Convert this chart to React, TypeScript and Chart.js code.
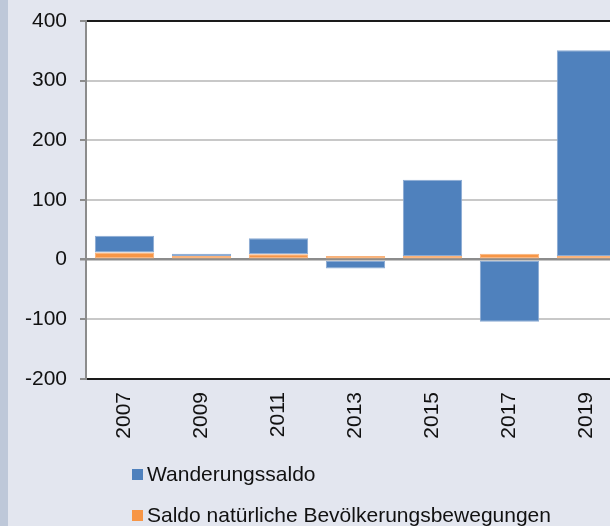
import React, { useEffect, useRef } from "react";
import { Chart, registerables } from "chart.js";

Chart.register(...registerables);

const years = ["2007", "2009", "2011", "2013", "2015", "2017", "2019"];
const wanderungssaldo = [28, 4, 27, -15, 128, -104, 345];
const natuerlicherSaldo = [12, 6, 9, 6, 6, 10, 6];
const seriesNames = ["Wanderungssaldo", "Saldo natürliche Bevölkerungsbewegungen"];
const yMin = -200;
const yMax = 400;
const yStep = 100;

const BLUE = "#4f81bd";
const ORANGE = "#f79646";
const FONT = "'Liberation Sans', Arial, sans-serif";

const whiteArea = {
  id: "whiteArea",
  beforeDraw(chart: any) {
    const { ctx, chartArea } = chart;
    ctx.save();
    ctx.fillStyle = "#ffffff";
    ctx.fillRect(chartArea.left, chartArea.top, chartArea.right - chartArea.left, chartArea.bottom - chartArea.top);
    ctx.restore();
  },
};

export default function App() {
  const ref = useRef<HTMLCanvasElement | null>(null);

  useEffect(() => {
    if (!ref.current) return;
    const chart = new Chart(ref.current, {
      type: "bar",
      data: {
        labels: years,
        datasets: [
          {
            label: seriesNames[1],
            data: natuerlicherSaldo,
            backgroundColor: ORANGE,
            borderColor: "#f9b27a",
            borderWidth: 1,
            borderSkipped: false,
          },
          {
            label: seriesNames[0],
            data: wanderungssaldo,
            backgroundColor: BLUE,
            borderColor: "#8aaad3",
            borderWidth: 1,
            borderSkipped: false,
          },
        ],
      },
      plugins: [whiteArea],
      options: {
        animation: false,
        responsive: false,
        maintainAspectRatio: false,
        devicePixelRatio: 1,
        layout: { padding: { left: 0, right: 0, top: 21, bottom: 0 } },
        plugins: { legend: { display: false }, tooltip: { enabled: false } },
        datasets: { bar: { categoryPercentage: 0.77, barPercentage: 1 } },
        scales: {
          x: {
            stacked: true,
            grid: { display: false, drawTicks: false },
            border: { display: true, color: "#1a1a1a", width: 2 },
            ticks: {
              color: "#111",
              font: { family: FONT, size: 21 },
              minRotation: 90,
              maxRotation: 90,
              padding: 13,
            },
            afterFit: (s: any) => {
              s.height = 147;
            },
          },
          y: {
            stacked: true,
            min: yMin,
            max: yMax,
            grid: {
              color: (ctx: any) => {
                const v = ctx.tick?.value;
                if (v === yMax || v === yMin) return "#1a1a1a";
                if (v === 0) return "#8c8c8c";
                return "#c8c8c8";
              },
              lineWidth: (ctx: any) => (ctx.tick?.value === 0 ? 2.5 : 2),
              tickColor: "#8c8c8c",
              tickLength: 6,
            },
            border: { display: true, color: "#8c8c8c", width: 2 },
            ticks: {
              stepSize: yStep,
              color: "#111",
              font: { family: FONT, size: 21 },
              padding: 13,
            },
            afterFit: (s: any) => {
              s.width = 86;
              s.paddingTop = 0;
              s.paddingBottom = 0;
            },
          },
        },
      },
    });
    return () => chart.destroy();
  }, []);

  const legendText: React.CSSProperties = {
    position: "absolute",
    left: 147,
    fontFamily: FONT,
    fontSize: 21,
    lineHeight: "21px",
    color: "#111",
    whiteSpace: "nowrap",
  };
  const sq = (top: number, color: string): React.CSSProperties => ({
    position: "absolute",
    left: 132,
    top,
    width: 11,
    height: 11,
    background: color,
  });

  return (
    <div
      style={{
        position: "fixed",
        left: 0,
        top: 0,
        width: 610,
        height: 526,
        overflow: "hidden",
        background: "#e3e6ef",
      }}
    >
      <div style={{ position: "absolute", left: 0, top: 0, width: 8, height: 526, background: "#bec8d9" }} />
      <canvas ref={ref} width={625} height={526} style={{ position: "absolute", left: 0, top: 0, width: 625, height: 526 }} />
      <div style={sq(469, BLUE)} />
      <div style={{ ...legendText, top: 463 }}>{seriesNames[0]}</div>
      <div style={sq(510, ORANGE)} />
      <div style={{ ...legendText, top: 504 }}>{seriesNames[1]}</div>
    </div>
  );
}
